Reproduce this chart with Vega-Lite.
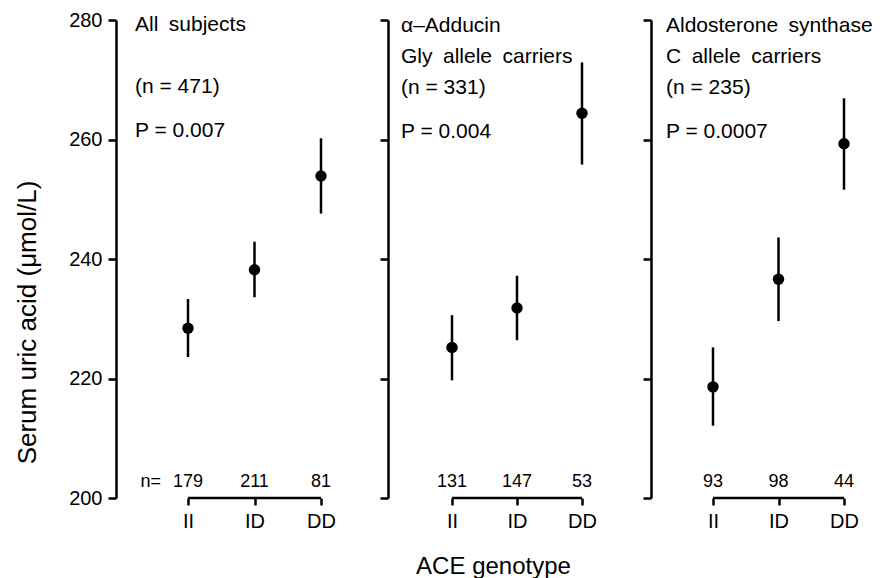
{
  "$schema": "https://vega.github.io/schema/vega-lite/v6.json",
  "padding": {"left": 14, "top": 10, "right": 5, "bottom": 5},
  "background": "white",
  "bounds": "flush",
  "spacing": 53,
  "config": {
    "font": "Liberation Sans",
    "view": {"stroke": null},
    "axis": {"domainColor": "black", "tickColor": "black", "labelColor": "black", "titleColor": "black", "domainWidth": 2.5, "tickWidth": 2.5, "grid": false, "labelFontSize": 20, "titleFontSize": 24, "titleFontWeight": "normal", "labelFont": "Liberation Sans", "titleFont": "Liberation Sans"},
    "title": {"fontSize": 21, "fontWeight": "normal", "anchor": "start", "frame": "group", "color": "black", "subtitleColor": "black", "subtitleFontSize": 21, "lineHeight": 31, "subtitleFont": "Liberation Sans", "font": "Liberation Sans"}
  },
  "datasets": {
    "d": [
      {"panel": 1, "g": "II", "m": 228.4, "lo": 223.6, "hi": 233.3, "n": 179},
      {"panel": 1, "g": "ID", "m": 238.2, "lo": 233.6, "hi": 242.9, "n": 211},
      {"panel": 1, "g": "DD", "m": 253.9, "lo": 247.6, "hi": 260.2, "n": 81},
      {"panel": 2, "g": "II", "m": 225.2, "lo": 219.7, "hi": 230.6, "n": 131},
      {"panel": 2, "g": "ID", "m": 231.8, "lo": 226.4, "hi": 237.2, "n": 147},
      {"panel": 2, "g": "DD", "m": 264.4, "lo": 255.8, "hi": 272.9, "n": 53},
      {"panel": 3, "g": "II", "m": 218.6, "lo": 212.1, "hi": 225.2, "n": 93},
      {"panel": 3, "g": "ID", "m": 236.6, "lo": 229.6, "hi": 243.6, "n": 98},
      {"panel": 3, "g": "DD", "m": 259.3, "lo": 251.6, "hi": 266.9, "n": 44}
    ]
  },
  "hconcat": [
    {
      "width": 219, "height": 478,
      "title": {"text": ["All\u2002subjects", "(n = 471)"], "lineHeight": 62, "subtitle": "P = 0.007", "offset": -131, "dx": 19, "subtitlePadding": 23},
      "data": {"name": "d"},
      "transform": [{"filter": "datum.panel == 1"}],
      "encoding": {
        "x": {"field": "g", "type": "nominal", "sort": ["II", "ID", "DD"], "scale": {"type": "point", "domain": ["II", "ID", "DD"], "range": [72, 205], "padding": 0}, "axis": {"title": null, "domain": false, "tickSize": 7, "labelPadding": 6, "labelAngle": 0}}
      },
      "layer": [
        {"mark": {"type": "rule", "strokeWidth": 2.5, "color": "black"},
         "encoding": {"y": {"field": "lo", "type": "quantitative", "scale": {"domain": [200, 280], "nice": false, "zero": false}, "axis": {"title": "Serum uric acid (μmol/L)", "titleFontSize": 26, "titleY": 302, "values": [200, 220, 240, 260, 280], "tickSize": 8, "labelPadding": 6, "titlePadding": 28}}, "y2": {"field": "hi"}}},
        {"mark": {"type": "point", "filled": true, "size": 130, "color": "black", "opacity": 1},
         "encoding": {"y": {"field": "m", "type": "quantitative"}}},
        {"mark": {"type": "text", "fontSize": 18, "baseline": "alphabetic", "dy": -11, "color": "black"},
         "encoding": {"y": {"datum": 200}, "text": {"field": "n", "type": "nominal"}}},
        {"transform": [{"filter": "datum.g == 'II'"}],
         "mark": {"type": "text", "text": "n=", "fontSize": 18, "baseline": "alphabetic", "align": "right", "dx": -27, "dy": -11, "color": "black"},
         "encoding": {"y": {"datum": 200}}},
        {"transform": [{"filter": "datum.g == 'II'"}],
         "mark": {"type": "rule", "strokeWidth": 2.5, "color": "black"},
         "encoding": {"x": {"datum": "II"}, "x2": {"datum": "DD"}, "y": {"datum": 200}}}
      ]
    },
    {
      "width": 210, "height": 478,
      "title": {"text": ["α–Adducin", "Gly\u2002allele\u2002carriers", "(n = 331)"], "subtitle": "P = 0.004", "offset": -123, "dx": 13, "subtitlePadding": 23},
      "data": {"name": "d"},
      "transform": [{"filter": "datum.panel == 2"}],
      "encoding": {
        "x": {"field": "g", "type": "nominal", "sort": ["II", "ID", "DD"], "scale": {"type": "point", "domain": ["II", "ID", "DD"], "range": [64, 194], "padding": 0}, "axis": {"title": "ACE genotype", "titleX": 105, "domain": false, "tickSize": 7, "labelPadding": 6, "labelAngle": 0, "titlePadding": 23}}
      },
      "layer": [
        {"mark": {"type": "rule", "strokeWidth": 2.5, "color": "black"},
         "encoding": {"y": {"field": "lo", "type": "quantitative", "scale": {"domain": [200, 280], "nice": false, "zero": false}, "axis": {"title": null, "labels": false, "values": [200, 220, 240, 260, 280], "tickSize": 8}}, "y2": {"field": "hi"}}},
        {"mark": {"type": "point", "filled": true, "size": 130, "color": "black", "opacity": 1},
         "encoding": {"y": {"field": "m", "type": "quantitative"}}},
        {"mark": {"type": "text", "fontSize": 18, "baseline": "alphabetic", "dy": -11, "color": "black"},
         "encoding": {"y": {"datum": 200}, "text": {"field": "n", "type": "nominal"}}},
        {"transform": [{"filter": "datum.g == 'II'"}],
         "mark": {"type": "rule", "strokeWidth": 2.5, "color": "black"},
         "encoding": {"x": {"datum": "II"}, "x2": {"datum": "DD"}, "y": {"datum": 200}}}
      ]
    },
    {
      "width": 200, "height": 478,
      "title": {"text": ["Aldosterone\u2002synthase", "C\u2002allele\u2002carriers", "(n = 235)"], "subtitle": "P = 0.0007", "offset": -123, "dx": 15, "subtitlePadding": 23},
      "data": {"name": "d"},
      "transform": [{"filter": "datum.panel == 3"}],
      "encoding": {
        "x": {"field": "g", "type": "nominal", "sort": ["II", "ID", "DD"], "scale": {"type": "point", "domain": ["II", "ID", "DD"], "range": [62, 193], "padding": 0}, "axis": {"title": null, "domain": false, "tickSize": 7, "labelPadding": 6, "labelAngle": 0}}
      },
      "layer": [
        {"mark": {"type": "rule", "strokeWidth": 2.5, "color": "black"},
         "encoding": {"y": {"field": "lo", "type": "quantitative", "scale": {"domain": [200, 280], "nice": false, "zero": false}, "axis": {"title": null, "labels": false, "values": [200, 220, 240, 260, 280], "tickSize": 8}}, "y2": {"field": "hi"}}},
        {"mark": {"type": "point", "filled": true, "size": 130, "color": "black", "opacity": 1},
         "encoding": {"y": {"field": "m", "type": "quantitative"}}},
        {"mark": {"type": "text", "fontSize": 18, "baseline": "alphabetic", "dy": -11, "color": "black"},
         "encoding": {"y": {"datum": 200}, "text": {"field": "n", "type": "nominal"}}},
        {"transform": [{"filter": "datum.g == 'II'"}],
         "mark": {"type": "rule", "strokeWidth": 2.5, "color": "black"},
         "encoding": {"x": {"datum": "II"}, "x2": {"datum": "DD"}, "y": {"datum": 200}}}
      ]
    }
  ]
}
